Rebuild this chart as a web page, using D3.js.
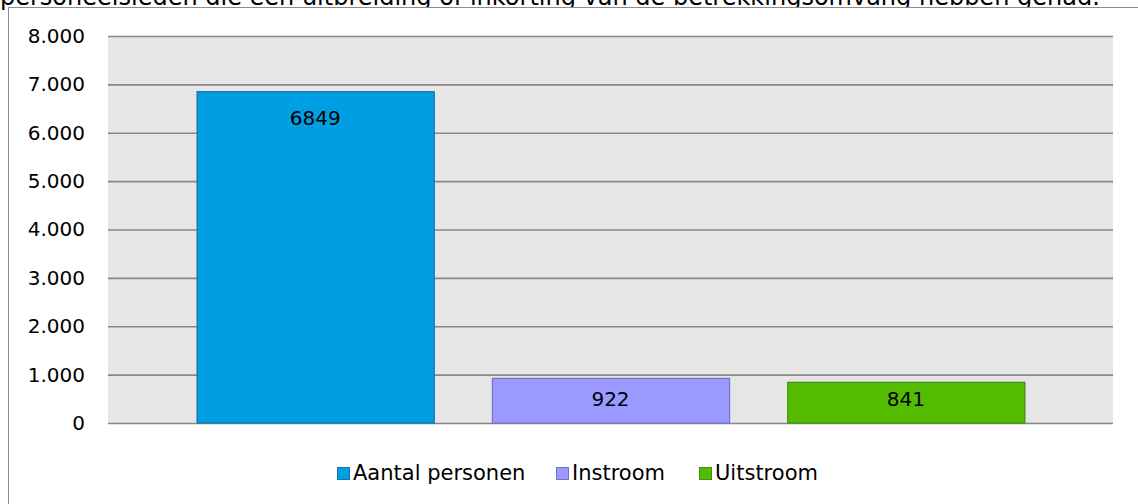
<!doctype html>
<html>
<head>
<meta charset="utf-8">
<title>betrekkingsomvang</title>
<script src="https://cdn.jsdelivr.net/npm/d3@7"></script>
<style>
	body { margin: 0; background: #fff; overflow: hidden; }
	text { font-family: "DejaVu Sans", Verdana, sans-serif; fill: #000; }
</style>
</head>
<body>
<script>
// data
var intro = "personeelsleden die een uitbreiding of inkorting van de betrekkingsomvang hebben gehad."
var series = ["Aantal personen", "Instroom", "Uitstroom"]
var values = [6849, 922, 841]
var yTicks = [0, 1000, 2000, 3000, 4000, 5000, 6000, 7000, 8000]

var fills = ["#009fe3", "#9999ff", "#55bb00"]
var strokes = ["#0b76ad", "#7373c4", "#3f8f12"]

var width = 1138
var height = 504
var plotL = 108, plotR = 1113, plotT = 36, plotB = 423

var nl = d3.formatLocale({decimal: ",", thousands: ".", grouping: [3], currency: ["€", ""]})
var fmt = nl.format(",")

var svg = d3.select("body").append("svg")
	.attr("width", width)
	.attr("height", height)

// line of text above the chart, mostly cut off by the window and the frame
svg.append("text")
	.attr("x", 0)
	.attr("y", 5)
	.attr("font-size", 24)
	.text(intro)

// chart frame (runs past the window on the right and bottom)
svg.append("rect")
	.attr("x", 8.5)
	.attr("y", 7.5)
	.attr("width", 1300)
	.attr("height", 700)
	.attr("fill", "#fff")
	.attr("stroke", "#8c8c8c")

var y = d3.scaleLinear().domain([0, 8000]).range([plotB, plotT])
var x = d3.scaleBand().domain(series).range([plotL, plotR])
	.paddingInner(0.197).paddingOuter(0.30)

svg.append("rect")
	.attr("x", plotL)
	.attr("y", plotT)
	.attr("width", plotR - plotL)
	.attr("height", plotB - plotT)
	.attr("fill", "#e6e6e6")

var yAxis = svg.append("g")
	.attr("transform", "translate(" + plotL + ",0)")
	.call(d3.axisLeft(y).tickValues(yTicks).tickFormat(fmt)
		.tickSize(-(plotR - plotL)).tickPadding(23))
yAxis.select(".domain").remove()
yAxis.selectAll(".tick line")
	.attr("stroke", "#878787")
	.attr("stroke-width", 1.6)
yAxis.selectAll(".tick text")
	.attr("font-size", 20)
	.attr("font-family", "DejaVu Sans, Verdana, sans-serif")
	.attr("fill", "#000")

var data = series.map(function(s, i) { return {name: s, value: values[i], i: i} })

svg.selectAll(".bar")
	.data(data)
	.enter()
	.append("rect")
	.attr("class", "bar")
	.attr("x", function(d) { return x(d.name) + 0.5 })
	.attr("y", function(d) { return y(d.value) })
	.attr("width", x.bandwidth())
	.attr("height", function(d) { return plotB - y(d.value) })
	.attr("fill", function(d) { return fills[d.i] })
	.attr("stroke", function(d) { return strokes[d.i] })
	.attr("stroke-width", 1.2)

// labels sit inside the top of the bar, but never lower than the base allows
svg.selectAll(".lbl")
	.data(data)
	.enter()
	.append("text")
	.attr("class", "lbl")
	.attr("x", function(d) { return x(d.name) + x.bandwidth() / 2 })
	.attr("y", function(d) { return Math.min(y(d.value) + 33, plotB - 17) })
	.attr("text-anchor", "middle")
	.attr("font-size", 20)
	.text(function(d) { return d.value })

// legend
var legendX = [337, 556, 699]
var legend = svg.selectAll(".leg")
	.data(data)
	.enter()
	.append("g")
	.attr("class", "leg")
	.attr("transform", function(d) { return "translate(" + legendX[d.i] + ",467)" })
legend.append("rect")
	.attr("x", 0.5)
	.attr("y", 0.5)
	.attr("width", 12)
	.attr("height", 12)
	.attr("fill", function(d) { return fills[d.i] })
	.attr("stroke", function(d) { return strokes[d.i] })
legend.append("text")
	.attr("x", 16)
	.attr("y", 13)
	.attr("font-size", 21)
	.text(function(d) { return d.name })
</script>
</body>
</html>
